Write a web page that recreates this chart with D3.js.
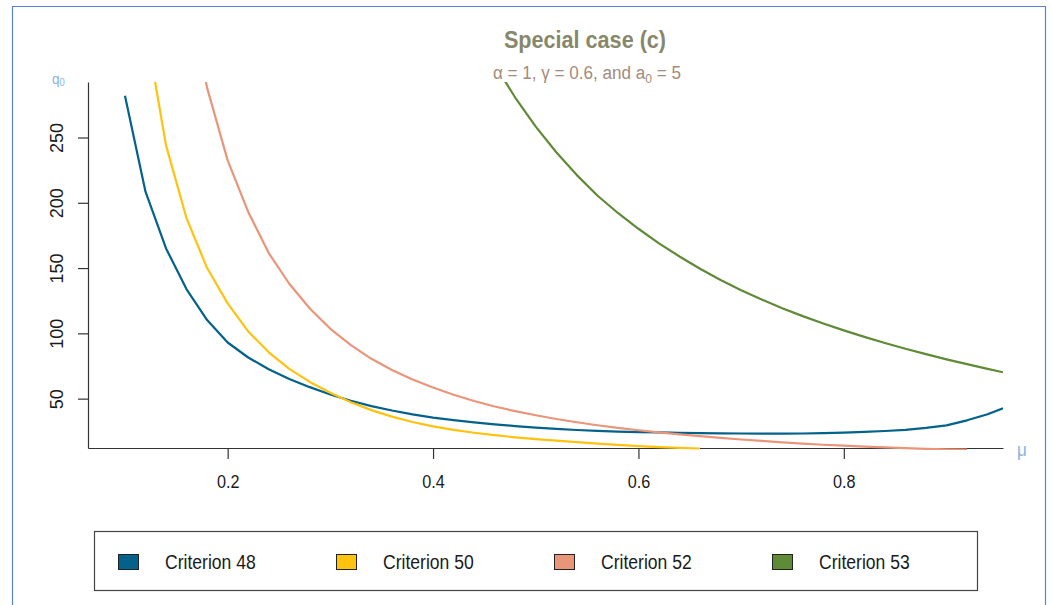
<!DOCTYPE html>
<html>
<head>
<meta charset="utf-8">
<script src="https://cdn.jsdelivr.net/npm/d3@7"></script>
<style>
  body { margin: 0; background: #fff; }
  svg { display: block; }
  text { font-family: "Liberation Sans", Arial, sans-serif; }
</style>
</head>
<body>
<svg id="chart" width="1052" height="605"></svg>
<script>
// ---- data -------------------------------------------------------------
const xTicks = [0.2, 0.4, 0.6, 0.8];
const yTicks = [50, 100, 150, 200, 250];

const mu48 = [0.10,0.12,0.14,0.16,0.18,0.20,0.22,0.24,0.26,0.28,0.30,0.32,0.34,0.36,0.38,0.40,0.42,0.44,0.46,0.48,0.50,0.52,0.54,0.56,0.58,0.60,0.62,0.64,0.66,0.68,0.70,0.72,0.74,0.76,0.78,0.80,0.82,0.84,0.86,0.88,0.90,0.92,0.94,0.955];
const q48  = [282,208.5,165,133.7,110.2,93,81.5,72.5,65,58.8,53.2,48.4,44.3,40.9,38,35.5,33.5,31.8,30.3,29,27.8,26.8,26,25.3,24.8,24.4,24.1,23.8,23.6,23.4,23.3,23.2,23.2,23.3,23.6,24,24.5,25.2,26.1,27.6,29.5,33.4,38,42.6];

const mu50 = [0.12,0.14,0.16,0.18,0.20,0.22,0.24,0.26,0.28,0.30,0.32,0.34,0.36,0.38,0.40,0.42,0.44,0.46,0.48,0.50,0.52,0.54,0.56,0.58,0.60,0.62,0.64,0.66];
const q50  = [335,244,188,150,123,101.5,85.5,72.8,62.8,54.5,47.3,41.2,36.2,32.1,28.8,26.1,23.9,22,20.4,19,17.8,16.7,15.6,14.6,13.7,12.9,12.3,11.8];

const mu52 = [0.16,0.18,0.20,0.22,0.24,0.26,0.28,0.30,0.32,0.34,0.36,0.38,0.40,0.42,0.44,0.46,0.48,0.50,0.52,0.54,0.56,0.58,0.60,0.62,0.64,0.66,0.68,0.70,0.72,0.74,0.76,0.78,0.80,0.82,0.84,0.86,0.88,0.90,0.92];
const q52  = [365,288,232.5,193,161.5,138,119,103.5,91,80.5,72,64.6,58.5,53,48.2,44,40.4,37.3,34.4,31.9,29.6,27.6,25.8,24.2,22.7,21.3,20,18.7,17.6,16.5,15.5,14.7,14,13.3,12.7,12.1,11.6,11.2,10.9];

const mu53 = [0.46,0.48,0.50,0.52,0.54,0.56,0.58,0.60,0.62,0.64,0.66,0.68,0.70,0.72,0.74,0.76,0.78,0.80,0.82,0.84,0.86,0.88,0.90,0.92,0.94,0.955];
const q53  = [305.8,280.6,258.3,238.7,221.2,205.6,192.2,180.1,168.9,158.9,149.5,140.8,133,125.9,119.3,113.2,107.5,102.3,97.3,92.6,88.2,84.1,80.1,76.4,72.8,70.2];

const seriesNames  = ["Criterion 48", "Criterion 50", "Criterion 52", "Criterion 53"];
const seriesColors = ["#03628a", "#ffc20f", "#e9957a", "#5f8a36"];

// ---- layout -----------------------------------------------------------
const svg = d3.select("#chart");
const sx = 0.9; // horizontal squeeze applied to the text

const x = d3.scaleLinear().domain([0.064, 0.955]).range([88, 1003]);
const y = d3.scaleLinear().domain([12.2, 292.5]).range([448, 82]);

// outer frame
svg.append("path")
  .attr("d", "M12.5,605 L12.5,6.5 L1045.5,6.5 L1045.5,605")
  .attr("fill", "none").attr("stroke", "#5a84d0").attr("stroke-width", 1.2);

// clip region for the curves
svg.append("clipPath").attr("id", "plotclip")
  .append("rect").attr("x", 88).attr("y", 82).attr("width", 915).attr("height", 368);

// ---- axes -------------------------------------------------------------
const xAxis = svg.append("g").attr("transform", "translate(0,448)")
  .call(d3.axisBottom(x).tickValues(xTicks).tickSize(11).tickSizeOuter(0).tickFormat(d3.format(".1f")));
const yAxis = svg.append("g").attr("transform", "translate(88,0)")
  .call(d3.axisLeft(y).tickValues(yTicks).tickSize(10).tickSizeOuter(0).tickFormat(d3.format("d")));

[xAxis, yAxis].forEach(g => {
  g.select(".domain").attr("stroke", "#333").attr("stroke-width", 1.2);
  g.selectAll(".tick line").attr("stroke", "#333").attr("stroke-width", 1.2);
  g.selectAll(".tick text").attr("fill", "#1a1a1a").attr("font-size", 18)
    .attr("x", null).attr("y", null).attr("dy", null);
});
xAxis.selectAll(".tick text")
  .attr("text-anchor", "middle")
  .attr("transform", `translate(0,40) scale(${sx},1)`);
yAxis.selectAll(".tick text")
  .attr("text-anchor", "middle")
  .attr("transform", "translate(-25,0) rotate(-90)");

// axis name labels
const q0 = svg.append("text").attr("transform", `translate(52,84) scale(${sx},1)`)
  .attr("fill", "#86b6e6").attr("font-size", 15);
q0.append("tspan").text("q");
q0.append("tspan").attr("font-size", 10.5).attr("dy", 2).text("0");

svg.append("text").attr("transform", `translate(1017,456) scale(${sx},1)`)
  .attr("fill", "#86b6e6").attr("font-size", 19).text("μ");

// ---- curves -----------------------------------------------------------
const line = d3.line().x(d => x(d[0])).y(d => y(d[1]));
const curves = [[mu48, q48], [mu50, q50], [mu52, q52], [mu53, q53]];
const plot = svg.append("g").attr("clip-path", "url(#plotclip)");
curves.forEach(([mu, q], i) => {
  plot.append("path")
    .datum(d3.zip(mu, q))
    .attr("d", line)
    .attr("fill", "none")
    .attr("stroke", seriesColors[i])
    .attr("stroke-width", 2.2)
    .attr("stroke-linejoin", "round");
});

// ---- titles -----------------------------------------------------------
svg.append("text").attr("transform", `translate(585,48) scale(${sx},1)`)
  .attr("text-anchor", "middle").attr("font-size", 24).attr("font-weight", "bold")
  .attr("fill", "#878769").text("Special case (c)");

const sub = svg.append("text").attr("transform", `translate(587,79) scale(${sx},1)`)
  .attr("text-anchor", "middle").attr("font-size", 19).attr("fill", "#a38c7a");
sub.append("tspan").text("α = 1, γ = 0.6, and a");
sub.append("tspan").attr("font-size", 13.5).attr("dy", 4).text("0");
sub.append("tspan").attr("dy", -4).text(" = 5");

// ---- legend -----------------------------------------------------------
const legend = svg.append("g");
legend.append("rect")
  .attr("x", 94.5).attr("y", 531.5).attr("width", 883).attr("height", 59)
  .attr("fill", "#fff").attr("stroke", "#444").attr("stroke-width", 1.2);
seriesNames.forEach((name, i) => {
  const g = legend.append("g").attr("transform", `translate(${118 + i * 218},0)`);
  g.append("rect").attr("x", 0.5).attr("y", 554.5).attr("width", 20).attr("height", 15)
    .attr("fill", seriesColors[i]).attr("stroke", "#222").attr("stroke-width", 1);
  g.append("text").attr("transform", `translate(47,569) scale(${sx},1)`)
    .attr("font-size", 19.5).attr("fill", "#1a1a1a").text(name);
});
</script>
</body>
</html>
